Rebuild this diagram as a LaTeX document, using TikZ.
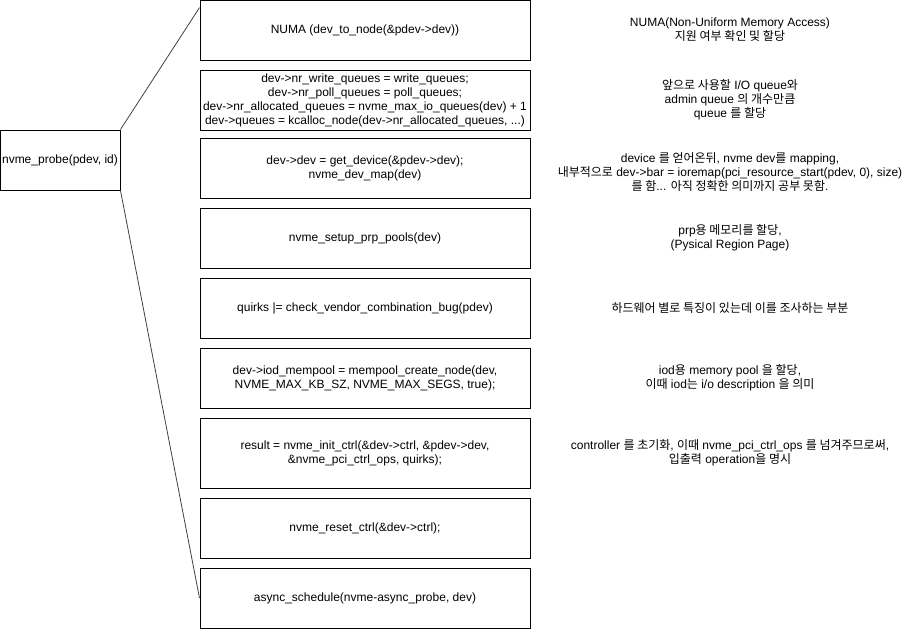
\documentclass[tikz,border=0pt]{standalone}
\usepackage{fontspec}
\usetikzlibrary{calc}
\setmainfont{Liberation Sans}
\newfontfamily\krfont[Scale=1.0]{Noto Sans CJK KR}
\newcommand\ko[1]{{\krfont #1}}
\begin{document}
\begin{tikzpicture}[x=1pt,y=-1pt,
  every node/.style={font=\fontsize{12}{14}\selectfont, align=center, inner sep=0pt},
  stepbox/.style={draw=black, line width=1pt, minimum width=330pt, minimum height=60pt},
  tallbox/.style={stepbox, minimum height=70pt},
  probebox/.style={draw=black, line width=1pt, minimum width=120pt, minimum height=60pt},
  note/.style={},
  link/.style={draw=black!75, line width=0.8pt}]
\useasboundingbox (0,0) rectangle (911,629);
\node[probebox] (probe) at (60,160) {nvme\_probe(pdev, id)};
\node[stepbox] (b1) at (365,30) {NUMA (dev\_to\_node(\&pdev->dev))};
\node[stepbox] (b2) at (365,100) {dev->nr\_write\_queues = write\_queues;\\dev->nr\_poll\_queues = poll\_queues;\\dev->nr\_allocated\_queues = nvme\_max\_io\_queues(dev) + 1\\dev->queues = kcalloc\_node(dev->nr\_allocated\_queues, ...)};
\node[stepbox] (b3) at (365,168) {dev->dev = get\_device(\&pdev->dev);\\nvme\_dev\_map(dev)};
\node[stepbox] (b4) at (365,238) {nvme\_setup\_prp\_pools(dev)};
\node[stepbox] (b5) at (365,308) {quirks |= check\_vendor\_combination\_bug(pdev)};
\node[stepbox] (b6) at (365,378) {dev->iod\_mempool = mempool\_create\_node(dev,\\NVME\_MAX\_KB\_SZ, NVME\_MAX\_SEGS, true);};
\node[tallbox] (b7) at (365,453) {result = nvme\_init\_ctrl(\&dev->ctrl, \&pdev->dev,\\\&nvme\_pci\_ctrl\_ops, quirks);};
\node[stepbox] (b8) at (365,528) {nvme\_reset\_ctrl(\&dev->ctrl);};
\node[stepbox] (b9) at (365,598) {async\_schedule(nvme-async\_probe, dev)};

\node[note] (n1) at (730,30) {NUMA(Non-Uniform Memory Access)\\\ko{지원 여부 확인 및 할당}};
\node[note] (n2) at (730,100) {\ko{앞으로 사용할} I/O queue\ko{와}\\admin queue \ko{의 개수만큼}\\queue \ko{를 할당}};
\node[note] (n3) at (730,172) {device \ko{를 얻어온뒤}, nvme dev\ko{를} mapping,\\\ko{내부적으로} dev->bar = ioremap(pci\_resource\_start(pdev, 0), size)\\\ko{를 함}... \ko{아직 정확한 의미까지 공부 못함}.};
\node[note] (n4) at (730,238) {prp\ko{용 메모리를 할당},\\(Pysical Region Page)};
\node[note] (n5) at (730,308) {\ko{하드웨어 별로 특징이 있는데 이를 조사하는 부분}};
\node[note] (n6) at (730,378) {iod\ko{용} memory pool \ko{을 할당},\\\ko{이때} iod\ko{는} i/o description \ko{을 의미}};
\node[note] (n7) at (730,453) {controller \ko{를 초기화}, \ko{이때} nvme\_pci\_ctrl\_ops \ko{를 넘겨주므로써},\\\ko{입출력} operation\ko{을 명시}};

\coordinate (e1) at ($(b1.north west)!0.133!(b1.south west)$);
\draw[link] (probe.north east) -- (e1);
\draw[link] (probe.south east) -- (b9.west);
\end{tikzpicture}
\end{document}
